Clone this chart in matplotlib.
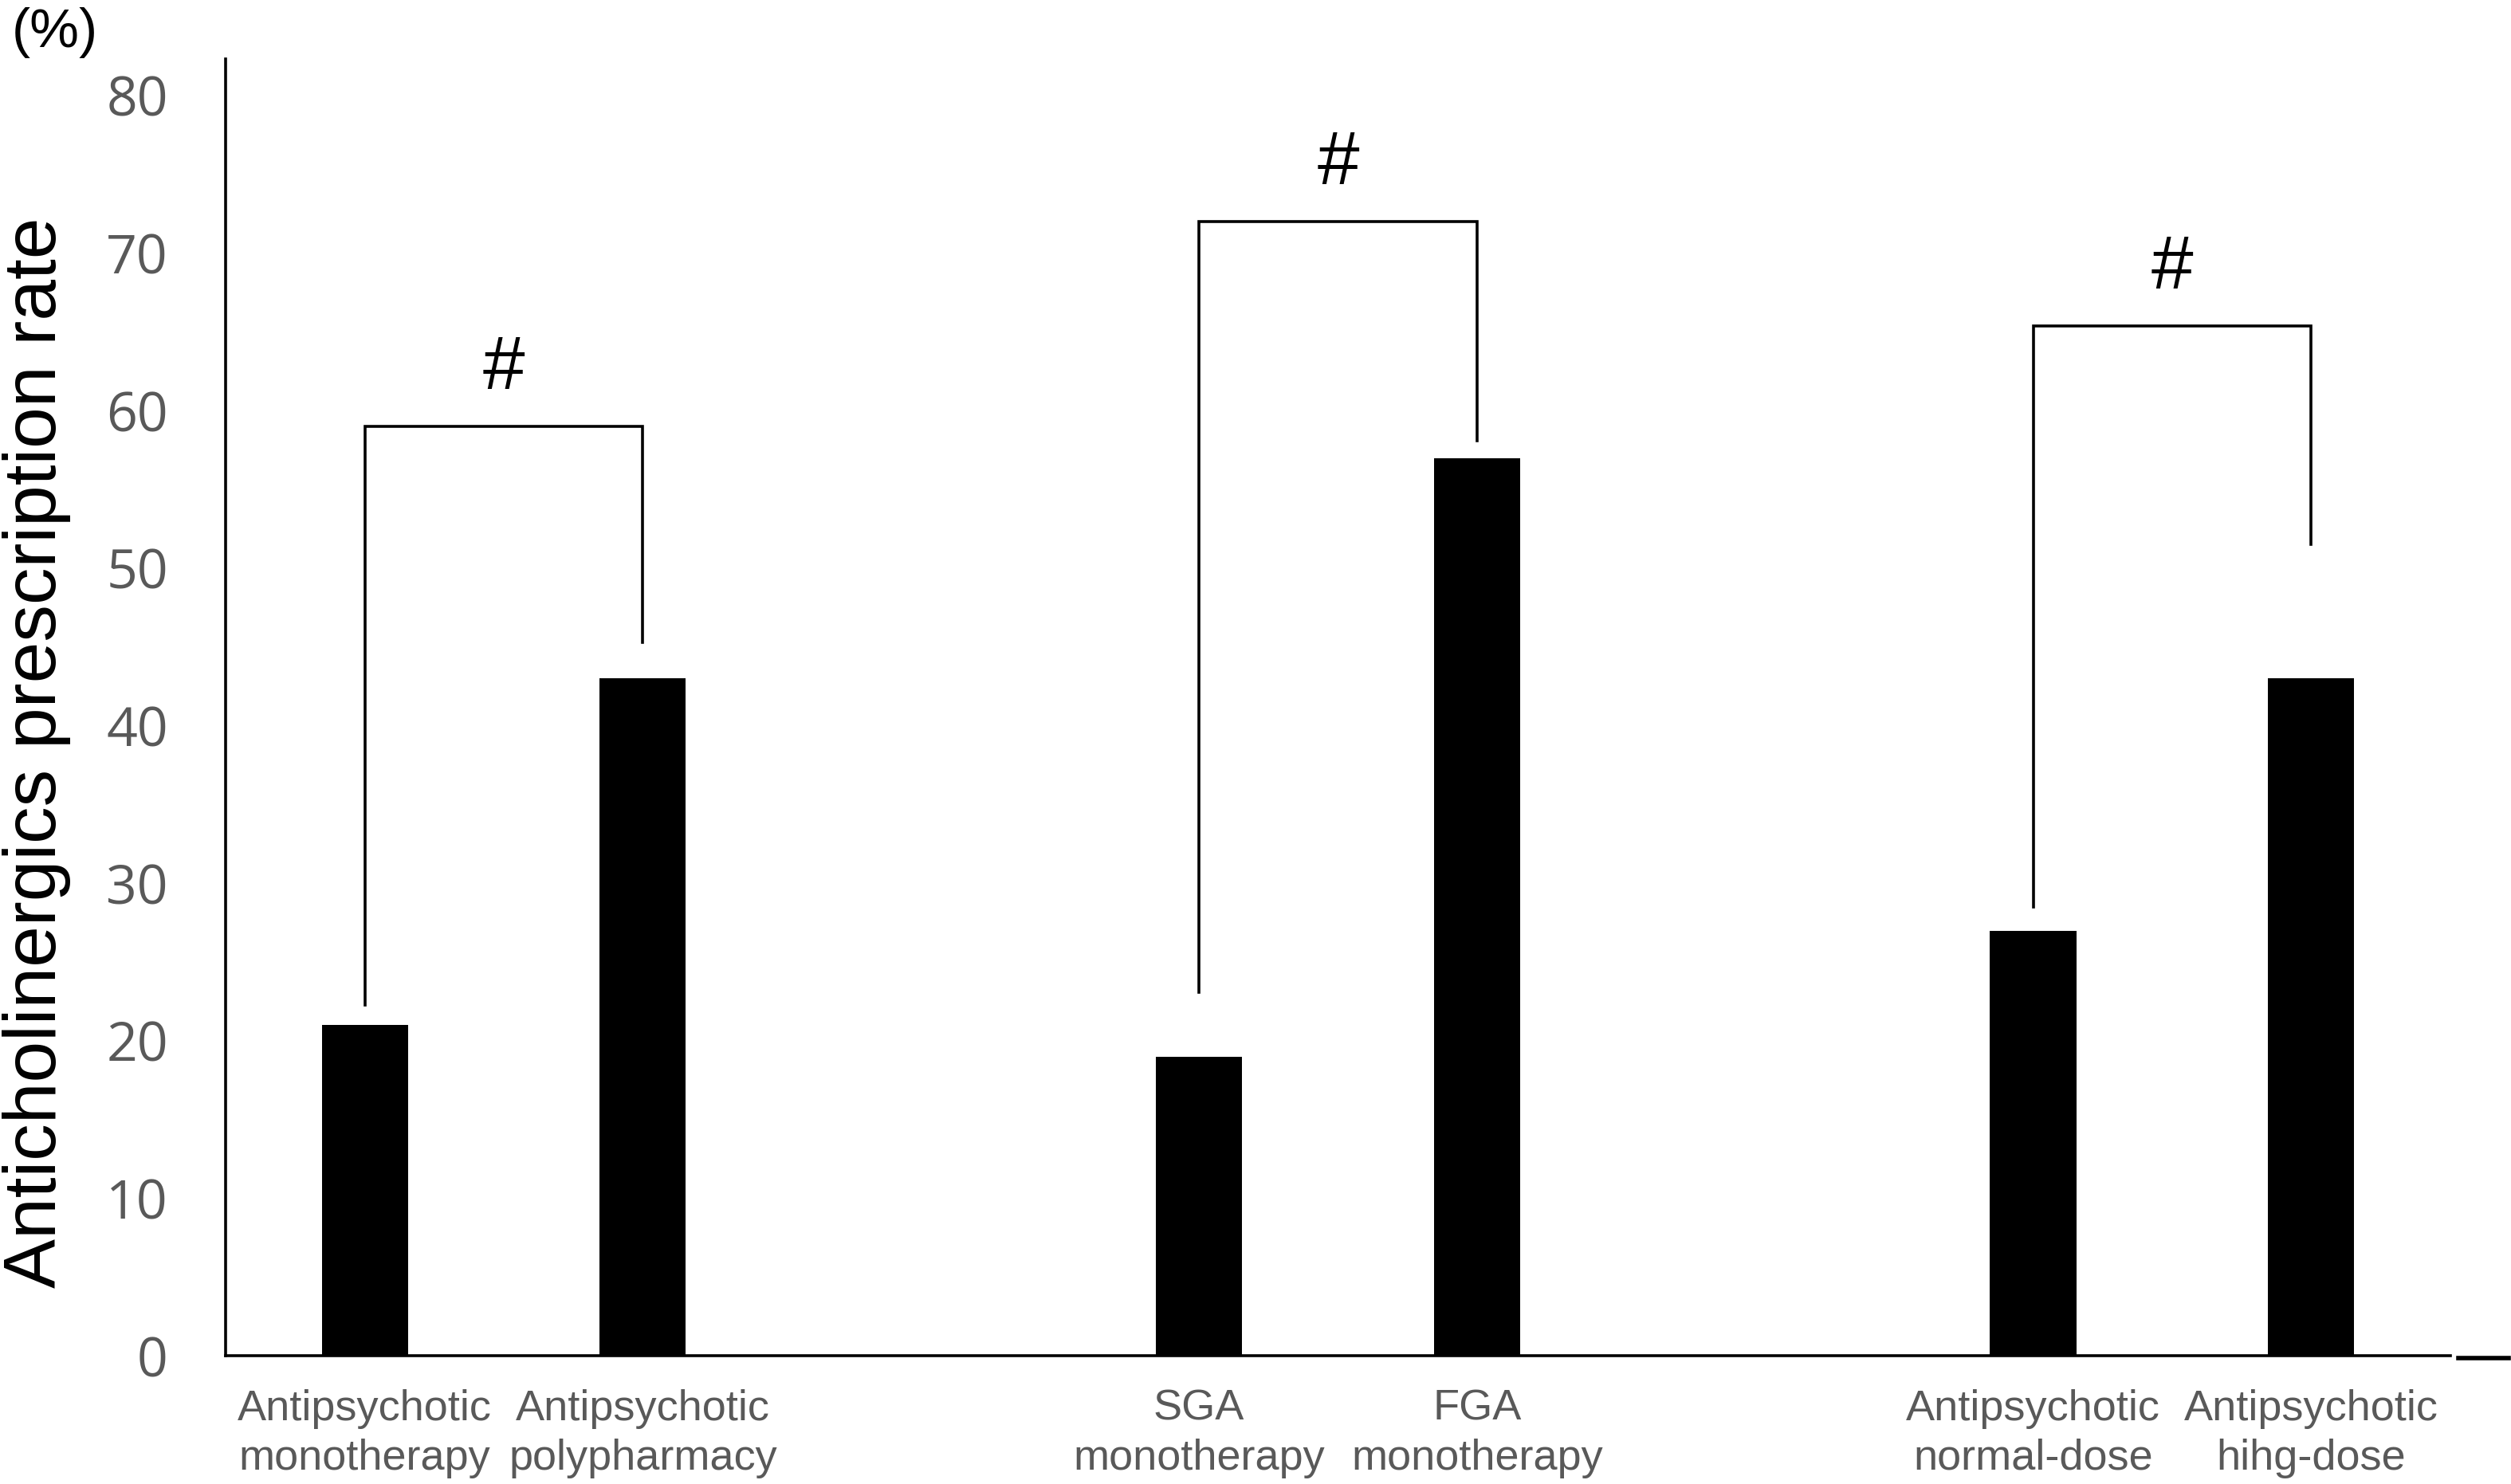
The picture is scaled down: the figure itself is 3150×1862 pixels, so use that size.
import matplotlib
matplotlib.use("Agg")
import matplotlib.pyplot as plt

categories = ["Antipsychotic\nmonotherapy", "Antipsychotic\npolypharmacy",
              "SGA\nmonotherapy", "FGA\nmonotherapy",
              "Antipsychotic\nnormal-dose", "Antipsychotic\nhihg-dose"]
positions = [0, 1, 3, 4, 6, 7]
values = [21, 43, 19, 57, 27, 43]
yticks = [0, 10, 20, 30, 40, 50, 60, 70, 80]

# significance brackets: (left index, right index)
bracket_pairs = [(0, 1), (2, 3), (4, 5)]
bracket_left_bottom = [22.3, 23.1, 28.5]
bracket_right_bottom = [45.3, 58.1, 51.5]
bracket_top = [59.0, 72.0, 65.4]
bracket_text = ["#", "#", "#"]

plt.rcParams['font.family'] = ['Liberation Sans', 'DejaVu Sans']

fig = plt.figure(figsize=(15.75, 9.31), dpi=200)
ax = fig.add_axes([0.0899, 0.0863, 0.9758 - 0.0899, 0.960 - 0.0863])

ax.bar(positions, values, width=0.31, color="black", zorder=2)

for (i, j), yl, yr, yt, t in zip(bracket_pairs, bracket_left_bottom,
                                 bracket_right_bottom, bracket_top, bracket_text):
    xl, xr = positions[i], positions[j]
    ax.plot([xl, xl, xr, xr], [yl, yt, yt, yr], color="black", lw=1.3,
            solid_joinstyle="miter", zorder=3)
    ax.text((xl + xr) / 2, yt + 3.6, t, ha="center", va="center",
            fontsize=34, color="black", fontweight="medium")

ax.set_xlim(-0.5, 7.5)
ax.set_ylim(0, 82.3)
ax.set_yticks(yticks)
ax.set_yticklabels([str(v) for v in yticks], fontsize=24.5, color="#595959",
                   family=['Open Sans', 'DejaVu Sans'])
ax.set_xticks(positions)
ax.set_xticklabels(categories, fontsize=19.5, color="#595959",
                   linespacing=1.3)
ax.tick_params(axis="y", length=0, pad=26)
ax.tick_params(axis="x", length=0, pad=15)

for s in ["top", "right"]:
    ax.spines[s].set_visible(False)
for s in ["left", "bottom"]:
    ax.spines[s].set_linewidth(1.3)
    ax.spines[s].set_color("black")

# small stray segment at the end of the baseline
ax.plot([7.53, 7.71], [-0.15, -0.15], color="black", lw=2.0, clip_on=False)

fig.text(0.0146, 0.493, "Anticholinergics prescription rate", rotation=90,
         ha="center", va="center", fontsize=33.5, color="black")
fig.text(0.0217, 0.978, "(%)", ha="center", va="center", fontsize=25,
         color="black")

fig.savefig("out.png", dpi=200)
